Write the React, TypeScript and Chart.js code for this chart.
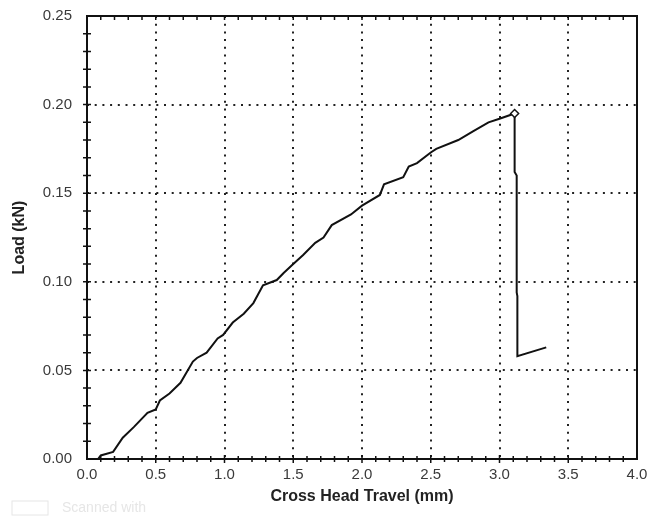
import React, { useEffect, useRef } from "react";
import { Chart, registerables } from "chart.js";

Chart.register(...registerables);

const travel = [0.08, 0.10, 0.19, 0.26, 0.34, 0.44, 0.50, 0.53, 0.60, 0.68, 0.77, 0.80, 0.87, 0.95, 0.99, 1.06, 1.14, 1.21, 1.28, 1.38, 1.43, 1.50, 1.57, 1.66, 1.72, 1.78, 1.92, 2.00, 2.13, 2.16, 2.30, 2.34, 2.40, 2.50, 2.54, 2.70, 2.81, 2.92, 3.00, 3.11, 3.11, 3.125, 3.125, 3.13, 3.13, 3.34];
const load = [0.000, 0.002, 0.004, 0.012, 0.018, 0.026, 0.028, 0.033, 0.037, 0.043, 0.055, 0.057, 0.060, 0.068, 0.070, 0.077, 0.082, 0.088, 0.098, 0.101, 0.105, 0.110, 0.115, 0.122, 0.125, 0.132, 0.138, 0.143, 0.149, 0.155, 0.159, 0.165, 0.167, 0.173, 0.175, 0.180, 0.185, 0.190, 0.192, 0.195, 0.162, 0.160, 0.094, 0.092, 0.058, 0.063];
const peakTravel = [3.11];
const peakLoad = [0.195];
const xTickLabels = ["0.0", "0.5", "1.0", "1.5", "2.0", "2.5", "3.0", "3.5", "4.0"];
const yTickLabels = ["0.00", "0.05", "0.10", "0.15", "0.20", "0.25"];

const framePlugin = {
  id: "frameTicks",
  afterDraw(chart: any) {
    const { ctx, chartArea: a, scales } = chart;
    const xs = scales.x;
    const ys = scales.y;
    ctx.save();
    ctx.strokeStyle = "#111";
    ctx.lineWidth = 2;
    ctx.strokeRect(a.left, a.top, a.right - a.left, a.bottom - a.top);
    ctx.lineWidth = 1.5;
    ctx.beginPath();
    for (let i = 1; i < 40; i++) {
      const v = i / 10;
      const px = xs.getPixelForValue(v);
      const major = i % 5 === 0;
      const l = major ? 4 : 3;
      ctx.moveTo(px, a.bottom - l);
      ctx.lineTo(px, a.bottom + l);
      ctx.moveTo(px, a.top);
      ctx.lineTo(px, a.top + 4);
    }
    for (let i = 1; i < 25; i++) {
      const v = i / 100;
      const py = ys.getPixelForValue(v);
      ctx.moveTo(a.left - 4, py);
      ctx.lineTo(a.left + 4, py);
    }
    ctx.stroke();
    ctx.fillStyle = "#e6e6e6";
    ctx.font = "14px 'Liberation Sans', Arial, sans-serif";
    ctx.textBaseline = "middle";
    ctx.fillText("Scanned with", 62, 508);
    ctx.strokeStyle = "#e6e6e6";
    ctx.lineWidth = 1;
    ctx.strokeRect(12, 501, 36, 14);
    ctx.restore();
  },
};

export default function App() {
  const ref = useRef<HTMLCanvasElement>(null);
  useEffect(() => {
    if (!ref.current) return;
    const pts = travel.map((x, i) => ({ x, y: load[i] }));
    const peak = peakTravel.map((x, i) => ({ x, y: peakLoad[i] }));
    const font = { family: "'Liberation Sans', Arial, sans-serif", size: 15 };
    const titleFont = { family: "'Liberation Sans', Arial, sans-serif", size: 16, weight: "bold" as const };
    const noPad = (s: any) => { s.paddingTop = 0; s.paddingBottom = 0; s.paddingLeft = 0; s.paddingRight = 0; };
    const chart = new Chart(ref.current, {
      type: "scatter",
      data: {
        datasets: [
          {
            data: peak,
            showLine: false,
            pointStyle: "rectRot",
            pointRadius: 4,
            pointBorderWidth: 1.5,
            pointBorderColor: "#111",
            pointBackgroundColor: "#fff",
          },
          {
            data: pts,
            showLine: true,
            borderColor: "#111",
            borderWidth: 2,
            pointRadius: 0,
            tension: 0,
          },
        ],
      },
      options: {
        animation: false,
        responsive: false,
        layout: { padding: { top: 16, right: 12, left: 0, bottom: 0 } },
        plugins: { legend: { display: false }, tooltip: { enabled: false } },
        scales: {
          x: {
            type: "linear",
            min: 0,
            max: 4,
            afterFit: (s: any) => { s.height = 57; noPad(s); },
            ticks: {
              stepSize: 0.5,
              padding: 7,
              color: "#3a3a3a",
              font,
              callback: (v: any, i: number) => xTickLabels[i] ?? "",
            },
            grid: {
              drawTicks: false,
              lineWidth: 2,
              color: (c: any) => (c.tick && (c.tick.value === 0 || c.tick.value === 4) ? "rgba(0,0,0,0)" : "#222"),
            },
            border: { display: false, dash: [2, 5.7] },
            title: { display: true, text: "Cross Head Travel (mm)", color: "#222", font: titleFont, padding: { top: 0, bottom: 10 } },
          },
          y: {
            type: "linear",
            min: 0,
            max: 0.25,
            afterFit: (s: any) => { s.width = 87; noPad(s); },
            ticks: {
              stepSize: 0.05,
              padding: 15,
              color: "#3a3a3a",
              font,
              callback: (v: any, i: number) => yTickLabels[i] ?? "",
            },
            grid: {
              drawTicks: false,
              lineWidth: 2,
              color: (c: any) => (c.tick && (c.tick.value === 0 || Math.abs(c.tick.value - 0.25) < 1e-9) ? "rgba(0,0,0,0)" : "#222"),
            },
            border: { display: false, dash: [2, 5.7] },
            title: { display: true, text: "Load (kN)", color: "#222", font: titleFont, padding: { top: 10, bottom: 0 } },
          },
        },
      },
      plugins: [framePlugin],
    });
    return () => chart.destroy();
  }, []);
  return (
    <div style={{ position: "absolute", left: 0, top: 0, width: 649, height: 516, background: "#fff" }}>
      <canvas ref={ref} width={649} height={516} />
    </div>
  );
}
